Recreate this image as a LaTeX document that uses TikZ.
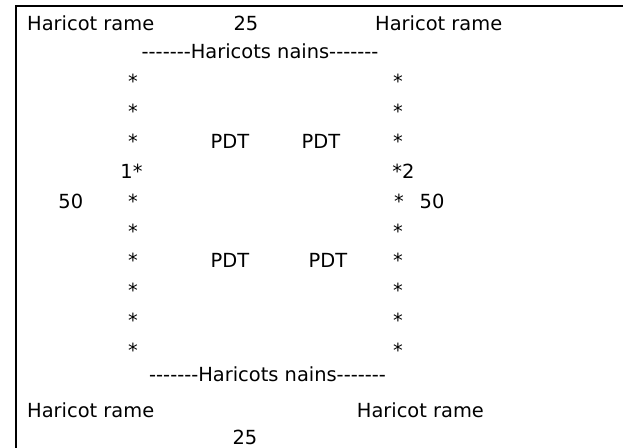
\documentclass[tikz,border=0pt]{standalone}
\usepackage{fontspec}
\setmainfont{DejaVu Sans}[Ligatures=TeXOff]
\usetikzlibrary{positioning}

\begin{document}
\begin{tikzpicture}[x=1bp, y=-1bp]

\useasboundingbox (0,0) rectangle (623,448);
\draw[line width=1.6bp] (623,6) -- (16,6) -- (16,448);

\begin{scope}[font=\fontsize{19.5}{20}\selectfont, inner sep=0pt, anchor=base]
  % top border of the field
  \node[anchor=base west] (rame0) at ( 27.0, 30.7) {Haricot rame};
  \node                   (len0)  at (246.0, 30.7) {25};
  \node[anchor=base west] (rame1) at (375.0, 30.7) {Haricot rame};
  \node                   (nain0) at (260.0, 58.3) {-------Haricots nains-------};

  % left row of plants
  \node (left0) at (133.0,  88.3) {*};
  \node (left1) at (133.0, 118.3) {*};
  \node (left2) at (133.0, 148.2) {*};
  \node (left3) at (131.5, 178.2) {1*};
  \node (left4) at (133.0, 208.1) {*};
  \node (left5) at (133.0, 238.1) {*};
  \node (left6) at (133.0, 268.0) {*};
  \node (left7) at (133.0, 298.0) {*};
  \node (left8) at (133.0, 327.9) {*};
  \node (left9) at (133.0, 357.8) {*};

  % right row of plants
  \node (right0) at (398.0,  88.3) {*};
  \node (right1) at (398.0, 118.3) {*};
  \node (right2) at (398.0, 148.2) {*};
  \node (right3) at (403.5, 178.2) {*2};
  \node (right4) at (399.0, 208.1) {*};
  \node (right5) at (398.0, 238.1) {*};
  \node (right6) at (398.0, 268.0) {*};
  \node (right7) at (398.0, 298.0) {*};
  \node (right8) at (398.0, 327.9) {*};
  \node (right9) at (398.0, 357.8) {*};

  % widths
  \node (wid0) at ( 70.8, 208.1) {50};
  \node (wid1) at (432.0, 208.1) {50};

  % plots
  \node (pdt0) at (230.0, 148.2) {PDT};
  \node (pdt1) at (321.0, 148.2) {PDT};
  \node (pdt2) at (230.0, 268.0) {PDT};
  \node (pdt3) at (328.0, 268.0) {PDT};

  % bottom border of the field
  \node                   (nain1) at (267.5, 381.7) {-------Haricots nains-------};
  \node[anchor=base west] (rame2) at ( 27.0, 417.3) {Haricot rame};
  \node[anchor=base west] (rame3) at (356.7, 417.3) {Haricot rame};
  \node                   (len1)  at (245.0, 444.5) {25};
\end{scope}

\end{tikzpicture}
\end{document}
